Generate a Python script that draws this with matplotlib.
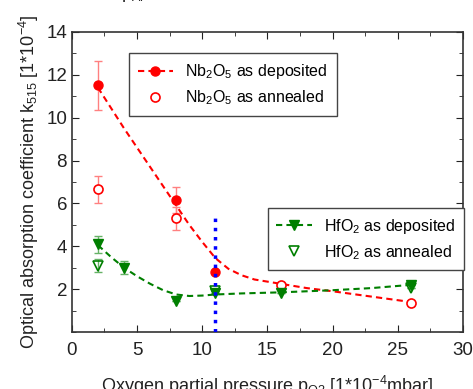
import numpy as np
import matplotlib
matplotlib.use("Agg")
import matplotlib.pyplot as plt
from matplotlib.ticker import MultipleLocator

plt.rcParams['font.family'] = ['Liberation Sans', 'DejaVu Sans']
plt.rcParams['mathtext.fontset'] = 'custom'
plt.rcParams['mathtext.rm'] = 'Liberation Sans'
plt.rcParams['mathtext.it'] = 'Liberation Sans'

# Nb2O5 data
nb_dep_x = [2, 8, 11]
nb_dep_y = [11.5, 6.15, 2.8]
nb_dep_err = [1.15, 0.6, 0.0]
nb_ann_x = [2, 8, 16, 26]
nb_ann_y = [6.65, 5.3, 2.2, 1.35]
nb_ann_err = [0.65, 0.55, 0.0, 0.0]
# fitted guide curve
nb_fit_x = [2, 4, 6, 8, 9, 10, 11, 12, 13, 14, 16, 18, 20, 23, 26]
nb_fit_y = [11.4, 9.5, 7.7, 5.9, 5.0, 4.2, 3.45, 2.95, 2.65, 2.45, 2.25, 2.05, 1.9, 1.65, 1.4]

# HfO2 data
hf_dep_x = [2, 4, 8, 11, 16, 26]
hf_dep_y = [4.1, 3.0, 1.45, 1.8, 1.8, 2.2]
hf_dep_err = [0.4, 0.3, 0.0, 0.0, 0.0, 0.0]
hf_ann_x = [2, 11, 26]
hf_ann_y = [3.1, 1.9, 2.05]
hf_ann_err = [0.3, 0.0, 0.0]
hf_fit_x = [2, 3, 4, 5, 6, 7, 8, 9, 10, 11, 13, 16, 20, 23, 26]
hf_fit_y = [4.05, 3.5, 3.0, 2.6, 2.25, 1.95, 1.75, 1.68, 1.7, 1.75, 1.8, 1.85, 1.95, 2.05, 2.2]

vline_x = 11
vline_top = 5.5

red = "#ff0000"
green = "#007f00"

fig = plt.figure(figsize=(4.73, 3.89), dpi=100)
ax = fig.add_axes([0.152, 0.1465, 0.827, 0.7715])

ax.errorbar(nb_dep_x, nb_dep_y, yerr=nb_dep_err, fmt='none', ecolor="#ff8080",
            elinewidth=1, capsize=3)
ax.errorbar(nb_ann_x, nb_ann_y, yerr=nb_ann_err, fmt='none', ecolor="#ff8080",
            elinewidth=1, capsize=3)
ax.errorbar(hf_dep_x, hf_dep_y, yerr=hf_dep_err, fmt='none', ecolor="#66b266",
            elinewidth=1, capsize=3)
ax.errorbar(hf_ann_x, hf_ann_y, yerr=hf_ann_err, fmt='none', ecolor="#66b266",
            elinewidth=1, capsize=3)

ax.plot(nb_fit_x, nb_fit_y, '--', color=red, lw=1.5, dashes=(3, 2))
ax.plot(hf_fit_x, hf_fit_y, '--', color=green, lw=1.5, dashes=(3, 2))

ax.plot(nb_dep_x, nb_dep_y, 'o', color=red, ms=6.5, zorder=5)
ax.plot(nb_ann_x, nb_ann_y, 'o', mfc='white', mec=red, mew=1.2, ms=6.5, zorder=5)
ax.plot(hf_dep_x, hf_dep_y, 'v', color=green, ms=7.5, zorder=5)
ax.plot(hf_ann_x, hf_ann_y, 'v', mfc='none', mec=green, mew=1.2, ms=7.5, zorder=6)

ax.plot([vline_x, vline_x], [0, vline_top], ':', color='#0000ff', lw=2.5, zorder=7)

# legend handles
h1, = ax.plot([], [], '--', color=red, marker='o', ms=6.5, lw=1.5, dashes=(3, 2))
h2, = ax.plot([], [], 'o', mfc='white', mec=red, mew=1.2, ms=6.5)
h3, = ax.plot([], [], '--', color=green, marker='v', ms=7.5, lw=1.5, dashes=(3, 2))
h4, = ax.plot([], [], 'v', mfc='none', mec=green, mew=1.2, ms=7.5)

leg1 = ax.legend([h1, h2], ["Nb$_2$O$_5$ as deposited", "Nb$_2$O$_5$ as annealed"],
                 loc='upper left', bbox_to_anchor=(0.125, 0.955), fontsize=11.5,
                 fancybox=False, edgecolor='#444444', framealpha=1,
                 handlelength=2.2, borderpad=0.55, labelspacing=0.45)
leg1.get_frame().set_linewidth(1)
ax.add_artist(leg1)
leg2 = ax.legend([h3, h4], ["HfO$_2$ as deposited", "HfO$_2$ as annealed"],
                 loc='upper left', bbox_to_anchor=(0.48, 0.44), fontsize=11.5,
                 fancybox=False, edgecolor='#444444', framealpha=1,
                 handlelength=2.2, borderpad=0.55, labelspacing=0.45)
leg2.get_frame().set_linewidth(1)

ax.set_xlim(0, 30)
ax.set_ylim(0, 14)
ax.set_yticks([2, 4, 6, 8, 10, 12, 14])
ax.xaxis.set_major_locator(MultipleLocator(5))
ax.xaxis.set_minor_locator(MultipleLocator(2.5))
ax.yaxis.set_minor_locator(MultipleLocator(1))
ax.tick_params(which='both', direction='in', top=True, right=True, labelsize=13.5,
               colors='#222222')
ax.tick_params(which='major', length=5)
ax.tick_params(which='minor', length=3)
ax.tick_params(axis='x', pad=7)
for s in ax.spines.values():
    s.set_linewidth(1.2)
    s.set_color('#333333')

ax.set_xlabel("Oxygen partial pressure p$_{O2}$ [1*10$^{-4}$mbar]", fontsize=13,
              labelpad=11, color='#222222')
ax.set_ylabel("Optical absorption coefficient k$_{515}$ [1*10$^{-4}$]", fontsize=13,
              labelpad=4, color='#222222')

fig.text(0.255, 1.005, "p$_{Ar}$", fontsize=13, va='baseline', color='#222222')

fig.savefig("out.png", dpi=100)
